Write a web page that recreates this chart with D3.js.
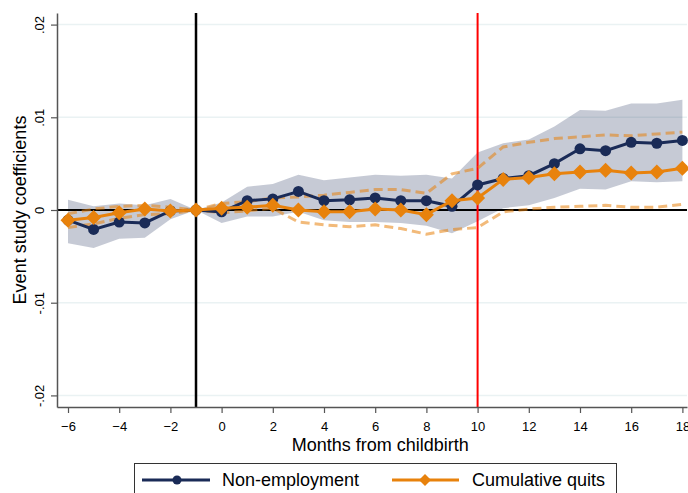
<!DOCTYPE html>
<html>
<head>
<meta charset="utf-8">
<script src="https://cdn.jsdelivr.net/npm/d3@7"></script>
<style>
  body { margin: 0; background: #fff; }
  svg { font-family: "Liberation Sans", Arial, sans-serif; }
</style>
</head>
<body>
<div id="my_dataviz"><svg></svg></div>
<script>
// months relative to childbirth
var months = [-6, -5, -4, -3, -2, -1, 0, 1, 2, 3, 4, 5, 6, 7, 8, 9, 10, 11, 12, 13, 14, 15, 16, 17, 18];

// Non-employment coefficients + 95% band
var nonEmp = [-0.0011, -0.0021, -0.0013, -0.0014, -0.0001, 0, -0.0002, 0.0010, 0.0012, 0.0020, 0.0010, 0.0011, 0.0013, 0.0010, 0.0010, 0.0004, 0.0027, 0.0034, 0.0037, 0.0050, 0.0066, 0.0064, 0.0073, 0.0072, 0.0075];
var nonEmpHi = [0.0011, 0.0004, 0.0007, 0.0005, 0.0012, 0, 0.0008, 0.0025, 0.0028, 0.0038, 0.0032, 0.0035, 0.0038, 0.0037, 0.0038, 0.0034, 0.0062, 0.0072, 0.0076, 0.0090, 0.0108, 0.0107, 0.0115, 0.0115, 0.0119];
var nonEmpLo = [-0.0036, -0.0041, -0.0031, -0.0030, -0.0010, 0, -0.0014, -0.0007, -0.0007, -0.0002, -0.0011, -0.0013, -0.0013, -0.0014, -0.0017, -0.0025, -0.0012, 0.0002, 0.0005, 0.0013, 0.0023, 0.0022, 0.0031, 0.0030, 0.0031];

// Cumulative quits coefficients + 95% CI (dashed)
var quits = [-0.0011, -0.0008, -0.0003, 0.0001, -0.0001, 0, 0.0002, 0.0003, 0.0005, 0.0000, -0.0002, -0.0002, 0.0001, 0.0000, -0.0005, 0.0010, 0.0013, 0.0033, 0.0035, 0.0039, 0.0041, 0.0043, 0.0040, 0.0041, 0.0045];
var quitsHi = [-0.0004, 0.0001, 0.0004, 0.0005, 0.0003, 0, 0.0007, 0.0009, 0.0013, 0.0014, 0.0016, 0.0019, 0.0022, 0.0022, 0.0018, 0.0039, 0.0045, 0.0068, 0.0073, 0.0077, 0.0079, 0.0081, 0.0080, 0.0082, 0.0084];
var quitsLo = [-0.0019, -0.0015, -0.0009, -0.0005, -0.0004, 0, -0.0003, -0.0001, 0.0002, -0.0013, -0.0016, -0.0018, -0.0016, -0.0020, -0.0026, -0.0021, -0.0019, -0.0002, 0.0001, 0.0003, 0.0004, 0.0005, 0.0003, 0.0003, 0.0006];

var xTicks = [-6, -4, -2, 0, 2, 4, 6, 8, 10, 12, 14, 16, 18];
var yTicks = [-0.02, -0.01, 0, 0.01, 0.02];
var yTickLabels = ["-.02", "-.01", "0", ".01", ".02"];
var birthLine = -1;
var returnLine = 10;
var seriesNames = ["Non-employment", "Cumulative quits"];

var navy = "#1a2b57", orange = "#e8820c";

var width = 688, height = 493;
var margin = {left: 57, right: 1, top: 13, bottom: 86};
var innerW = width - margin.left - margin.right,
    innerH = height - margin.top - margin.bottom;

var svg = d3.select("#my_dataviz").select("svg")
    .attr("width", width)
    .attr("height", height);

var g = svg.append("g")
    .attr("transform", "translate(" + margin.left + "," + margin.top + ")");

var x = d3.scaleLinear().domain([-6.43, 18.18]).range([0, innerW]);
var y = d3.scaleLinear().domain([-0.02125, 0.02125]).range([innerH, 0]);

// gridlines
g.selectAll(".grid")
    .data(yTicks.filter(function (d) { return d != 0; }))
    .enter().append("line")
    .attr("x1", 0).attr("x2", innerW)
    .attr("y1", function (d) { return y(d); })
    .attr("y2", function (d) { return y(d); })
    .attr("stroke", "#eaf2f3").attr("stroke-width", 1.5);

var data = months.map(function (m, i) {
    return {m: m, ne: nonEmp[i], neHi: nonEmpHi[i], neLo: nonEmpLo[i], q: quits[i], qHi: quitsHi[i], qLo: quitsLo[i]};
});

// band
g.append("path")
    .datum(data)
    .attr("fill", navy).attr("fill-opacity", 0.25)
    .attr("d", d3.area()
        .x(function (d) { return x(d.m); })
        .y0(function (d) { return y(d.neLo); })
        .y1(function (d) { return y(d.neHi); }));

// reference lines
g.append("line")
    .attr("x1", 0).attr("x2", innerW)
    .attr("y1", y(0)).attr("y2", y(0))
    .attr("stroke", "#000").attr("stroke-width", 2);
g.append("line")
    .attr("x1", x(birthLine)).attr("x2", x(birthLine))
    .attr("y1", 0).attr("y2", innerH)
    .attr("stroke", "#000").attr("stroke-width", 2.5);
g.append("line")
    .attr("x1", x(returnLine)).attr("x2", x(returnLine))
    .attr("y1", 0).attr("y2", innerH)
    .attr("stroke", "#ff0000").attr("stroke-width", 2);

// dashed CI for quits
["qHi", "qLo"].forEach(function (k) {
    g.append("path")
        .datum(data)
        .attr("fill", "none")
        .attr("stroke", orange).attr("stroke-opacity", 0.55)
        .attr("stroke-width", 3)
        .attr("stroke-dasharray", "9,5")
        .attr("d", d3.line()
            .x(function (d) { return x(d.m); })
            .y(function (d) { return y(d[k]); }));
});

// non-employment
g.append("path")
    .datum(data)
    .attr("fill", "none").attr("stroke", navy).attr("stroke-width", 3)
    .attr("d", d3.line().x(function (d) { return x(d.m); }).y(function (d) { return y(d.ne); }));
g.selectAll(".dot")
    .data(data).enter().append("circle")
    .attr("cx", function (d) { return x(d.m); })
    .attr("cy", function (d) { return y(d.ne); })
    .attr("r", 5.5).attr("fill", navy);

// quits
g.append("path")
    .datum(data)
    .attr("fill", "none").attr("stroke", orange).attr("stroke-width", 3)
    .attr("d", d3.line().x(function (d) { return x(d.m); }).y(function (d) { return y(d.q); }));
function diamond(s) {
    return "M0," + (-s) + "L" + s + ",0L0," + s + "L" + (-s) + ",0Z";
}
g.selectAll(".dia")
    .data(data).enter().append("path")
    .attr("transform", function (d) { return "translate(" + x(d.m) + "," + y(d.q) + ")"; })
    .attr("d", diamond(7.5)).attr("fill", orange);

// axes
var xAxis = g.append("g")
    .attr("transform", "translate(0," + innerH + ")")
    .call(d3.axisBottom(x).tickValues(xTicks).tickSize(6).tickSizeOuter(0).tickPadding(9));
var yAxis = g.append("g")
    .call(d3.axisLeft(y).tickValues(yTicks).tickSize(6).tickSizeOuter(0)
        .tickFormat(function (d, i) { return yTickLabels[i]; }));
[xAxis, yAxis].forEach(function (a) {
    a.select(".domain").attr("stroke", "#555").attr("stroke-width", 1.5);
    a.selectAll(".tick line").attr("stroke", "#555").attr("stroke-width", 1.2);
    a.selectAll("text").attr("font-size", 13).attr("fill", "#000")
        .attr("font-family", "Liberation Sans, Arial, sans-serif");
});
yAxis.selectAll(".tick text")
    .attr("text-anchor", "middle")
    .attr("x", null).attr("dy", null)
    .attr("transform", "translate(-13,0) rotate(-90)");

// titles
svg.append("text")
    .attr("x", margin.left + x(6.2)).attr("y", 451)
    .attr("text-anchor", "middle").attr("font-size", 18)
    .text("Months from childbirth");
svg.append("text")
    .attr("transform", "translate(26," + (margin.top + y(0)) + ") rotate(-90)")
    .attr("text-anchor", "middle").attr("font-size", 18)
    .text("Event study coefficients");

// legend
var leg = svg.append("g");
leg.append("rect")
    .attr("x", 134.5).attr("y", 463.5).attr("width", 482).attr("height", 40)
    .attr("fill", "#fff").attr("stroke", "#333").attr("stroke-width", 1);
leg.append("line").attr("x1", 142).attr("x2", 210).attr("y1", 480).attr("y2", 480)
    .attr("stroke", navy).attr("stroke-width", 3);
leg.append("circle").attr("cx", 177).attr("cy", 480).attr("r", 4.5).attr("fill", navy);
leg.append("text").attr("x", 222).attr("y", 486).attr("font-size", 18).text(seriesNames[0]);
leg.append("line").attr("x1", 392).attr("x2", 459).attr("y1", 480).attr("y2", 480)
    .attr("stroke", orange).attr("stroke-width", 3);
leg.append("path").attr("transform", "translate(425,480)").attr("d", diamond(6)).attr("fill", orange);
leg.append("text").attr("x", 472).attr("y", 486).attr("font-size", 18).text(seriesNames[1]);
</script>
</body>
</html>
